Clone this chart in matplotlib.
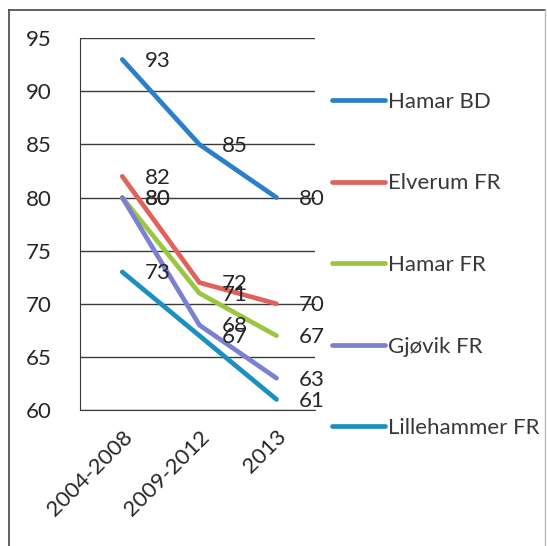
#!/usr/bin/env python3

import matplotlib
matplotlib.use("Agg")
import matplotlib.pyplot as plt
from matplotlib.lines import Line2D
from matplotlib.transforms import ScaledTranslation

# =====================================================
# DATA
# =====================================================

periods = ["2004-2008", "2009-2012", "2013"]

series_names = ["Hamar BD", "Elverum FR", "Hamar FR", "Gjøvik FR", "Lillehammer FR"]

hamar_bd = [93, 85, 80]
elverum_fr = [82, 72, 70]
hamar_fr = [80, 71, 67]
gjovik_fr = [80, 68, 63]
lillehammer_fr = [73, 67, 61]

y_ticks = [60, 65, 70, 75, 80, 85, 90, 95]

# =====================================================
# STYLE
# =====================================================

plt.rcParams["font.family"] = ["Lato", "DejaVu Sans"]

colours = ["#2a80c8", "#e0625c", "#9cc640", "#7c80d2", "#1b8fbf"]
FONT_SIZE = 16
TEXT_COLOUR = "#262626"

fig = plt.figure(figsize=(5.47, 5.46), dpi=100)
ax = fig.add_axes([0.146, 0.249, 0.430, 0.681])

all_series = [hamar_bd, elverum_fr, hamar_fr, gjovik_fr, lillehammer_fr]
x = list(range(len(periods)))

handles = []
for name, values, col in zip(series_names, all_series, colours):
    line, = ax.plot(x, values, color=col, linewidth=3.4,
                    solid_capstyle="round", label=name, zorder=3)
    handles.append(line)
    for xi, v in zip(x, values):
        ax.annotate(str(v), (xi, v), xytext=(16, -1), textcoords="offset points",
                    ha="left", va="center", fontsize=FONT_SIZE,
                    color=TEXT_COLOUR, zorder=4)

ax.set_xlim(-0.55, 2.5)
ax.set_ylim(60, 95)
ax.set_yticks(y_ticks)
ax.set_xticks(x)
ax.set_xticklabels(periods, rotation=45, ha="right", rotation_mode="anchor")

# nudge the rotated category labels a little left, like the original
shift = ScaledTranslation(-0.05, 0, fig.dpi_scale_trans)
for lab in ax.get_xticklabels():
    lab.set_transform(lab.get_transform() + shift)

ax.grid(axis="y", color="#3a3a3a", linewidth=1.0)
ax.set_axisbelow(True)

for side in ["top", "right"]:
    ax.spines[side].set_visible(False)
ax.spines["left"].set_color("#3a3a3a")
ax.spines["bottom"].set_color("#3a3a3a")

ax.tick_params(axis="y", length=0, pad=20, labelsize=FONT_SIZE, labelcolor=TEXT_COLOUR)
ax.tick_params(axis="x", length=0, pad=12, labelsize=FONT_SIZE, labelcolor=TEXT_COLOUR)

fig.legend(handles=handles, loc="upper left", bbox_to_anchor=(0.586, 0.852),
           frameon=False, fontsize=16, labelspacing=2.77,
           handlelength=2.4, handletextpad=0.12, borderpad=0, labelcolor="#383838")

# scanned frame around the chart (left and top edges clear, right faint)
fig.add_artist(Line2D([0.016, 0.016], [0.0, 0.982], transform=fig.transFigure,
                      color="#555555", linewidth=1.3))
fig.add_artist(Line2D([0.016, 0.997], [0.982, 0.982], transform=fig.transFigure,
                      color="#555555", linewidth=1.3))
fig.add_artist(Line2D([0.996, 0.996], [0.0, 0.982], transform=fig.transFigure,
                      color="#bbbbbb", linewidth=1.0))

fig.savefig("out.png", dpi=100)
